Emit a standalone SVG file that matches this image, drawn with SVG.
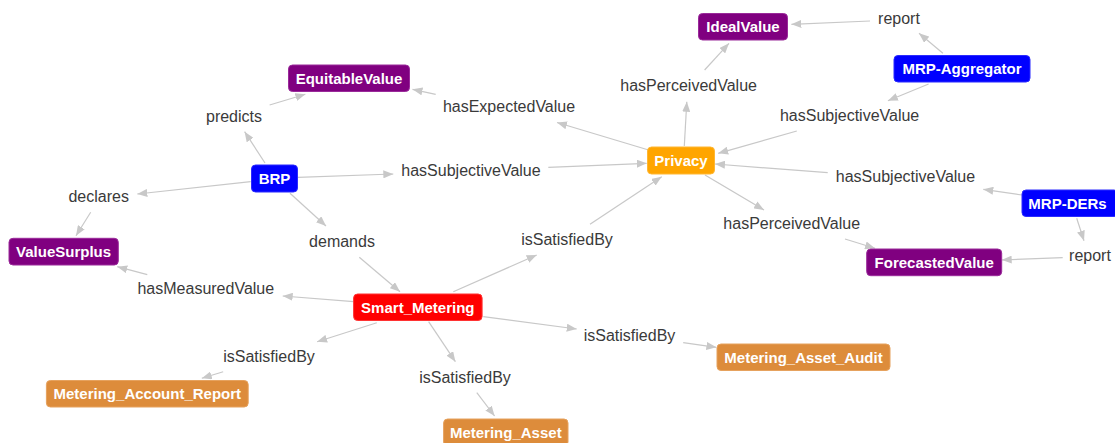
<svg xmlns="http://www.w3.org/2000/svg" width="1115" height="443" viewBox="0 0 1115 443">
  <style>
    .edge { stroke: #c8c8c8; stroke-width: 1.2; fill: none; marker-end: url(#arrow); }
    .lbl { font-family: "Liberation Sans", Arial, sans-serif; font-size: 16px; fill: #3a3a3a; text-anchor: middle; }
    .name { font-family: "Liberation Sans", Arial, sans-serif; font-size: 15px; font-weight: bold; fill: #ffffff; text-anchor: middle; }
    .purple { fill: #800080; stroke: #9a2a9a; stroke-width: 1; }
    .blue { fill: #0000ff; stroke: #2b2bff; stroke-width: 1; }
    .gold { fill: #ffa500; stroke: #ffb733; stroke-width: 1; }
    .red { fill: #ff0000; stroke: #ff3333; stroke-width: 1; }
    .copper { fill: #dd8c3b; stroke: #e6a25e; stroke-width: 1; }
  </style>
  <defs>
    <marker id="arrow" viewBox="0 0 10 8" refX="10" refY="4" markerWidth="10" markerHeight="8" markerUnits="userSpaceOnUse" orient="auto">
      <path d="M0,0 L10,4 L0,8 Z" fill="#c8c8c8"/>
    </marker>
  </defs>
  <rect width="1115" height="443" fill="#ffffff"/>

  <!-- connectors -->
  <g id="connectors">
    <line class="edge" x1="265" y1="163" x2="244.6" y2="131.7"/>
    <line class="edge" x1="269.6" y1="105" x2="305.4" y2="94.3"/>
    <line class="edge" x1="648.6" y1="150" x2="557" y2="122.5"/>
    <line class="edge" x1="435.7" y1="94.3" x2="412.5" y2="89.3"/>
    <line class="edge" x1="298" y1="177.3" x2="393.3" y2="174"/>
    <line class="edge" x1="548.3" y1="167.3" x2="646.7" y2="163.3"/>
    <line class="edge" x1="684.3" y1="146" x2="686.8" y2="101.7"/>
    <line class="edge" x1="704.6" y1="70" x2="729" y2="43.3"/>
    <line class="edge" x1="942.9" y1="53.3" x2="919" y2="33.3"/>
    <line class="edge" x1="870" y1="21" x2="791.4" y2="24.3"/>
    <line class="edge" x1="928.6" y1="84" x2="887.9" y2="100.7"/>
    <line class="edge" x1="796.8" y1="131" x2="718.2" y2="153.3"/>
    <line class="edge" x1="1021.7" y1="195" x2="983.3" y2="189.3"/>
    <line class="edge" x1="827.7" y1="172.7" x2="715" y2="164"/>
    <line class="edge" x1="1076.7" y1="218.3" x2="1084" y2="240.7"/>
    <line class="edge" x1="1062.7" y1="257.7" x2="1001.7" y2="260"/>
    <line class="edge" x1="705" y1="175" x2="764" y2="210"/>
    <line class="edge" x1="845" y1="239" x2="875" y2="248.3"/>
    <line class="edge" x1="250.7" y1="181.7" x2="137.3" y2="194"/>
    <line class="edge" x1="90.7" y1="212.3" x2="76" y2="235.7"/>
    <line class="edge" x1="290" y1="193.3" x2="326" y2="226"/>
    <line class="edge" x1="359.3" y1="257.3" x2="400" y2="291.7"/>
    <line class="edge" x1="453.3" y1="291.7" x2="536.7" y2="255"/>
    <line class="edge" x1="590" y1="224.3" x2="661.7" y2="176.7"/>
    <line class="edge" x1="353.6" y1="301.7" x2="282.7" y2="296"/>
    <line class="edge" x1="147.3" y1="274.7" x2="117.3" y2="266.7"/>
    <line class="edge" x1="376.8" y1="322.7" x2="317.1" y2="341.7"/>
    <line class="edge" x1="223.2" y1="371.7" x2="201.8" y2="378.3"/>
    <line class="edge" x1="428.6" y1="321.7" x2="455.4" y2="361.7"/>
    <line class="edge" x1="476.8" y1="392.7" x2="494.6" y2="416"/>
    <line class="edge" x1="483.3" y1="316.7" x2="576.7" y2="329"/>
    <line class="edge" x1="683.2" y1="342.7" x2="716.4" y2="347.3"/>

    <!-- relation labels -->
    <g id="labels">
      <text class="lbl" x="899" y="24">report</text>
      <text class="lbl" x="688.6" y="90.7">hasPerceivedValue</text>
      <text class="lbl" x="849.6" y="121">hasSubjectiveValue</text>
      <text class="lbl" x="509" y="111.7">hasExpectedValue</text>
      <text class="lbl" x="234" y="121.7">predicts</text>
      <text class="lbl" x="471" y="176">hasSubjectiveValue</text>
      <text class="lbl" x="905.5" y="182.3">hasSubjectiveValue</text>
      <text class="lbl" x="98.7" y="202.3">declares</text>
      <text class="lbl" x="791.7" y="229.3">hasPerceivedValue</text>
      <text class="lbl" x="342" y="247.3">demands</text>
      <text class="lbl" x="567" y="245.3">isSatisfiedBy</text>
      <text class="lbl" x="1090" y="260.5">report</text>
      <text class="lbl" x="205.8" y="294">hasMeasuredValue</text>
      <text class="lbl" x="629.5" y="340.7">isSatisfiedBy</text>
      <text class="lbl" x="269" y="361.7">isSatisfiedBy</text>
      <text class="lbl" x="465" y="383.3">isSatisfiedBy</text>
    </g>
  </g>

  <!-- nodes -->
  <g id="IdealValue">
    <rect class="purple" x="698.5" y="13.5" width="89" height="26.5" rx="4"/>
    <text class="name" x="743" y="32.2">IdealValue</text>
  </g>
  <g id="MRP-Aggregator">
    <rect class="blue" x="894" y="55.5" width="136" height="26.5" rx="4"/>
    <text class="name" x="962" y="74.2">MRP-Aggregator</text>
  </g>
  <g id="EquitableValue">
    <rect class="purple" x="288.5" y="65" width="121" height="26.5" rx="4"/>
    <text class="name" x="349" y="83.7">EquitableValue</text>
  </g>
  <g id="Privacy">
    <rect class="gold" x="647.5" y="147" width="67" height="27" rx="4"/>
    <text class="name" x="681" y="166">Privacy</text>
  </g>
  <g id="BRP">
    <rect class="blue" x="251.5" y="165" width="46" height="27" rx="4"/>
    <text class="name" x="274.5" y="184">BRP</text>
  </g>
  <g id="MRP-DERs">
    <rect class="blue" x="1022" y="190" width="96" height="26.5" rx="4"/>
    <text class="name" x="1067.5" y="208.7">MRP-DERs</text>
  </g>
  <g id="ValueSurplus">
    <rect class="purple" x="9" y="238.3" width="109.3" height="26.7" rx="4"/>
    <text class="name" x="63.6" y="257">ValueSurplus</text>
  </g>
  <g id="ForecastedValue">
    <rect class="purple" x="866.7" y="249" width="135" height="26.7" rx="4"/>
    <text class="name" x="934.2" y="267.7">ForecastedValue</text>
  </g>
  <g id="Smart_Metering">
    <rect class="red" x="353.6" y="294" width="128.5" height="26.5" rx="4"/>
    <text class="name" x="417.8" y="312.7">Smart_Metering</text>
  </g>
  <g id="Metering_Asset_Audit">
    <rect class="copper" x="717" y="344" width="173" height="26.5" rx="4"/>
    <text class="name" x="803.5" y="362.7">Metering_Asset_Audit</text>
  </g>
  <g id="Metering_Account_Report">
    <rect class="copper" x="46.4" y="380.5" width="201.8" height="26.5" rx="4"/>
    <text class="name" x="147.3" y="399.2">Metering_Account_Report</text>
  </g>
  <g id="Metering_Asset">
    <rect class="copper" x="443.6" y="419" width="124.4" height="27" rx="4"/>
    <text class="name" x="505.8" y="438">Metering_Asset</text>
  </g>
</svg>
